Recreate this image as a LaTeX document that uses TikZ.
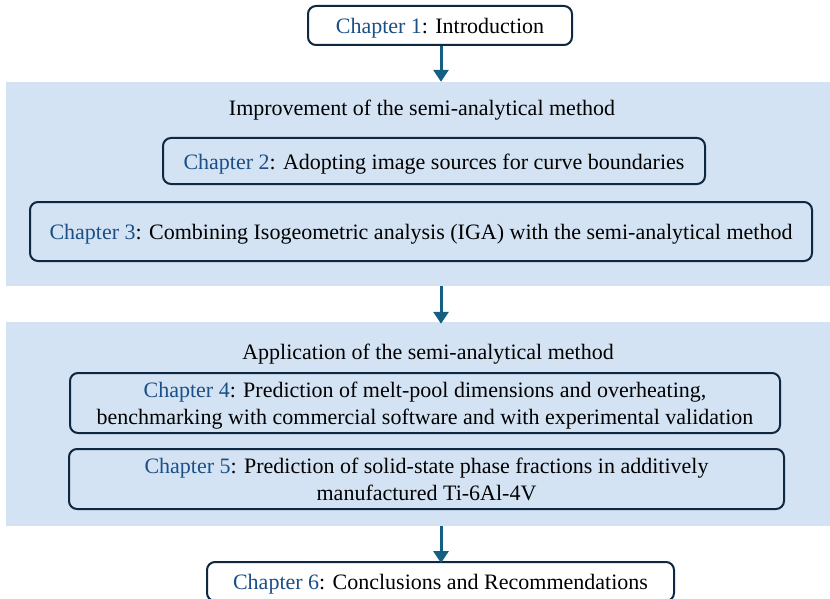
\documentclass[tikz,border=0pt]{standalone}
\usepackage{fontspec}
\setmainfont{Liberation Serif}
\usepackage{xcolor}
\usetikzlibrary{arrows.meta}
\definecolor{panelblue}{HTML}{D3E3F4}
\definecolor{boxnavy}{HTML}{0E2841}
\definecolor{chapblue}{HTML}{1B4F85}
\definecolor{arrowblue}{HTML}{156082}
\newcommand{\chap}[1]{\textcolor{chapblue}{Chapter #1}}

\begin{document}
\begin{tikzpicture}[x=1pt,y=-1pt,
	every node/.style={font=\fontsize{22}{27}\selectfont},
	panel/.style={fill=panelblue, inner sep=0pt},
	chapbox/.style={draw=boxnavy, line width=2pt, rounded corners=8pt, inner sep=0pt, align=center},
	oneline/.style={text height=18pt, text depth=2pt},
	flow/.style={draw=arrowblue, line width=3pt, -{Triangle[width=15pt,length=12pt]}}]
		
		\useasboundingbox (0,0) rectangle (830,599);
		\coordinate (axis) at (441,0);
		
		\node[panel, minimum width=824, minimum height=204] (imp) at (418,184) {};
		\node[panel, minimum width=824, minimum height=204] (app) at (418,424) {};
		
		\node[chapbox, oneline, fill=white, minimum width=264, minimum height=39] (c1) at (440,25.5) {\chap{1}: Introduction};
		
		\node (impt) at (422,110) {Improvement of the semi-analytical method};
		\node[chapbox, oneline, minimum width=542, minimum height=46] (c2) at (434,161) {\chap{2}: Adopting image sources for curve boundaries};
		\node[chapbox, oneline, minimum width=782, minimum height=59] (c3) at (421,231.5) {\chap{3}: Combining Isogeometric analysis (IGA) with the semi-analytical method};
		
		\node (appt) at (428,354) {Application of the semi-analytical method};
		\node[chapbox, text height=47pt, text depth=5pt, minimum width=710, minimum height=60] (c4) at (425,403) {\chap{4}: Prediction of melt-pool dimensions and overheating,\\benchmarking with commercial software and with experimental validation};
		\node[chapbox, minimum width=715, minimum height=60] (c5) at (426.5,479) {\chap{5}: Prediction of solid-state phase fractions in additively\\manufactured Ti-6Al-4V};
		
		\node[chapbox, oneline, fill=white, minimum width=467, minimum height=39] (c6) at (440.5,581.5) {\chap{6}: Conclusions and Recommendations};
		
		\draw[flow] (c1.south -| axis) -- (imp.north -| axis);
		\draw[flow] (imp.south -| axis) -- ([yshift=-2pt]app.north -| axis);
		\draw[flow] (app.south -| axis) -- ([yshift=-2pt]c6.north -| axis);
		\end{tikzpicture}
\end{document}
